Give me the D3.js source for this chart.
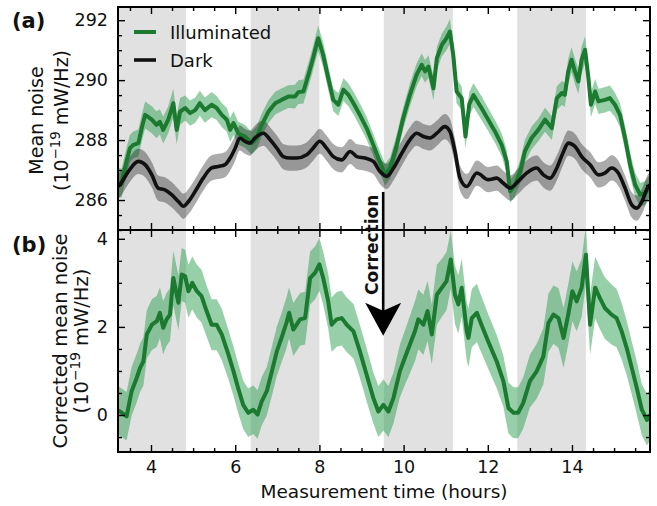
<!DOCTYPE html>
<html><head><meta charset="utf-8">
<script src="https://cdn.jsdelivr.net/npm/d3@7"></script>
<style>
body{margin:0;background:#fff}
svg{display:block}
text{font-family:"DejaVu Sans",sans-serif;fill:#111}
</style>
</head><body>
<svg id="chart" width="657" height="506"></svg>
<script>
// ---------------- data (time in hours, value, uncertainty) ----------------
const illuminated = [
[3.22,286.60,0.48],[3.30,286.56,0.48],[3.42,287.30,0.46],[3.50,287.73,0.45],[3.58,287.84,0.45],[3.70,287.90,0.45],[3.78,288.40,0.45],[3.86,288.84,0.45],[4.02,288.68,0.45],[4.13,288.51,0.45],[4.21,288.61,0.42],[4.29,288.34,0.45],[4.41,288.68,0.45],[4.53,289.23,0.48],[4.61,288.34,0.48],[4.69,288.95,0.45],[4.81,289.07,0.42],[4.93,288.90,0.42],[5.05,289.00,0.42],[5.16,289.23,0.42],[5.28,289.00,0.42],[5.44,289.18,0.42],[5.56,289.07,0.4],[5.68,288.84,0.4],[5.80,288.68,0.4],[5.88,288.34,0.4],[5.96,288.57,0.4],[6.07,288.23,0.38],[6.23,288.12,0.38],[6.39,287.90,0.38],[6.51,288.07,0.38],[6.63,288.51,0.38],[6.79,288.95,0.38],[6.95,289.23,0.38],[7.10,289.34,0.38],[7.26,289.45,0.38],[7.42,289.45,0.4],[7.50,289.60,0.4],[7.62,289.62,0.4],[7.74,290.18,0.4],[7.85,290.73,0.4],[7.97,291.40,0.42],[8.09,290.84,0.42],[8.21,290.07,0.4],[8.33,289.34,0.38],[8.45,289.18,0.38],[8.57,289.68,0.38],[8.69,289.51,0.38],[8.81,289.23,0.38],[8.96,288.84,0.38],[9.12,288.40,0.38],[9.28,287.84,0.36],[9.40,287.40,0.36],[9.56,286.84,0.36],[9.68,287.07,0.36],[9.84,287.84,0.36],[9.99,288.73,0.36],[10.15,289.51,0.38],[10.31,290.18,0.38],[10.43,290.51,0.38],[10.51,290.29,0.38],[10.59,290.45,0.38],[10.71,289.73,0.4],[10.79,290.73,0.38],[10.91,291.18,0.38],[11.02,291.40,0.4],[11.10,291.62,0.42],[11.18,290.84,0.42],[11.26,289.62,0.4],[11.38,289.40,0.4],[11.47,288.12,0.4],[11.56,289.20,0.4],[11.66,289.50,0.4],[11.85,289.07,0.4],[12.01,288.68,0.38],[12.17,288.29,0.38],[12.33,287.84,0.38],[12.45,287.29,0.38],[12.53,286.29,0.38],[12.65,286.51,0.38],[12.77,286.95,0.38],[12.88,287.62,0.38],[13.04,288.07,0.38],[13.20,288.34,0.38],[13.36,288.68,0.4],[13.52,288.40,0.4],[13.64,289.40,0.4],[13.76,289.57,0.4],[13.83,289.51,0.4],[13.91,290.29,0.42],[13.99,290.68,0.42],[14.07,290.29,0.42],[14.15,289.96,0.42],[14.23,290.68,0.45],[14.31,291.01,0.45],[14.39,290.07,0.42],[14.45,289.18,0.42],[14.55,289.62,0.42],[14.63,289.29,0.42],[14.78,289.34,0.42],[14.90,289.40,0.42],[15.02,289.18,0.4],[15.14,288.84,0.4],[15.26,288.07,0.4],[15.38,287.18,0.4],[15.50,286.51,0.4],[15.62,286.18,0.4],[15.74,286.23,0.4],[15.85,286.45,0.4]
];
const dark = [
[3.22,286.45,0.42],[3.26,286.51,0.42],[3.46,286.95,0.42],[3.70,287.29,0.42],[3.86,287.18,0.42],[4.02,286.84,0.42],[4.17,286.40,0.42],[4.33,286.34,0.42],[4.49,286.18,0.42],[4.65,285.95,0.42],[4.77,285.79,0.42],[4.89,285.95,0.42],[5.05,286.29,0.42],[5.24,286.73,0.42],[5.44,287.07,0.42],[5.60,287.12,0.42],[5.76,287.18,0.42],[5.88,287.40,0.42],[6.00,287.73,0.42],[6.11,288.07,0.42],[6.23,287.96,0.42],[6.35,287.90,0.42],[6.47,288.07,0.42],[6.67,288.23,0.42],[6.83,288.01,0.42],[6.99,287.73,0.42],[7.14,287.45,0.42],[7.30,287.40,0.42],[7.46,287.40,0.42],[7.70,287.51,0.42],[7.85,287.73,0.42],[8.01,287.96,0.42],[8.17,287.73,0.42],[8.33,287.45,0.42],[8.53,287.34,0.42],[8.73,287.62,0.42],[8.89,287.45,0.42],[9.08,287.40,0.42],[9.28,287.29,0.42],[9.44,286.95,0.42],[9.60,286.79,0.42],[9.76,287.07,0.42],[9.96,287.57,0.42],[10.15,288.01,0.42],[10.31,288.23,0.42],[10.47,288.12,0.42],[10.63,288.07,0.42],[10.79,288.23,0.42],[10.98,288.45,0.42],[11.10,288.29,0.42],[11.22,287.62,0.42],[11.34,286.73,0.42],[11.50,286.45,0.42],[11.74,286.90,0.42],[12.01,286.68,0.42],[12.21,286.73,0.42],[12.37,286.56,0.42],[12.53,286.40,0.42],[12.72,286.62,0.42],[12.92,286.90,0.42],[13.16,287.07,0.42],[13.32,286.84,0.42],[13.48,286.73,0.42],[13.64,287.07,0.42],[13.80,287.62,0.42],[13.91,287.90,0.42],[14.07,287.79,0.42],[14.23,287.45,0.42],[14.43,287.18,0.42],[14.63,286.84,0.42],[14.78,286.90,0.42],[14.94,287.07,0.42],[15.10,286.90,0.42],[15.26,286.40,0.42],[15.42,285.84,0.42],[15.54,285.73,0.42],[15.66,285.95,0.42],[15.81,286.45,0.42],[15.85,286.50,0.42]
];
const corrected = [
[3.22,0.10,0.55],[3.26,0.08,0.55],[3.42,-0.03,0.55],[3.54,0.54,0.55],[3.66,0.84,0.55],[3.74,1.07,0.55],[3.82,1.22,0.55],[3.90,1.83,0.55],[4.02,2.05,0.58],[4.14,2.13,0.58],[4.21,2.32,0.58],[4.29,1.98,0.6],[4.37,2.17,0.6],[4.45,2.28,0.6],[4.53,3.11,0.62],[4.65,2.55,0.62],[4.73,3.19,0.6],[4.81,3.15,0.6],[4.89,2.81,0.6],[4.98,3.00,0.6],[5.09,2.81,0.6],[5.20,2.70,0.6],[5.32,2.36,0.58],[5.44,2.05,0.58],[5.56,2.05,0.58],[5.68,1.83,0.58],[5.84,1.37,0.56],[5.96,0.99,0.56],[6.07,0.61,0.56],[6.19,0.23,0.55],[6.31,0.05,0.55],[6.43,0.12,0.55],[6.53,0.01,0.55],[6.63,0.31,0.55],[6.75,0.54,0.55],[6.87,0.99,0.56],[6.99,1.45,0.56],[7.10,1.75,0.56],[7.22,2.10,0.58],[7.28,2.32,0.58],[7.38,1.94,0.6],[7.54,2.17,0.6],[7.66,2.20,0.6],[7.78,3.11,0.6],[7.90,3.23,0.6],[8.00,3.42,0.6],[8.09,3.11,0.6],[8.21,2.58,0.62],[8.29,2.05,0.62],[8.41,2.17,0.62],[8.53,2.20,0.62],[8.65,2.05,0.62],[8.81,1.90,0.62],[8.96,1.45,0.6],[9.12,0.92,0.6],[9.28,0.39,0.58],[9.40,0.08,0.58],[9.52,0.23,0.58],[9.64,0.08,0.58],[9.76,0.39,0.58],[9.91,0.99,0.6],[10.03,1.30,0.62],[10.15,1.60,0.65],[10.27,1.90,0.68],[10.35,2.17,0.68],[10.47,2.05,0.68],[10.57,2.36,0.68],[10.67,1.83,0.68],[10.79,2.73,0.68],[10.91,2.89,0.66],[11.02,3.04,0.66],[11.12,3.53,0.66],[11.22,2.73,0.66],[11.30,2.51,0.66],[11.38,2.89,0.66],[11.50,1.90,0.66],[11.54,1.75,0.66],[11.62,2.20,0.66],[11.74,2.32,0.66],[11.85,2.05,0.64],[12.01,1.67,0.62],[12.21,1.22,0.6],[12.37,0.77,0.58],[12.49,0.16,0.58],[12.61,0.05,0.58],[12.72,0.05,0.58],[12.84,0.27,0.58],[13.00,0.77,0.6],[13.16,0.99,0.62],[13.32,1.33,0.64],[13.44,2.09,0.66],[13.56,2.28,0.66],[13.68,2.20,0.68],[13.80,1.75,0.68],[13.91,2.28,0.68],[14.01,2.81,0.68],[14.11,2.58,0.68],[14.23,2.89,0.66],[14.33,3.64,0.66],[14.43,2.05,0.68],[14.55,2.89,0.7],[14.66,2.66,0.7],[14.78,2.43,0.7],[14.94,2.28,0.68],[15.06,2.20,0.66],[15.18,1.90,0.64],[15.30,1.52,0.62],[15.42,1.07,0.6],[15.54,0.61,0.6],[15.66,0.12,0.58],[15.78,-0.11,0.58],[15.85,0.00,0.58]
];
// light (illuminated) periods shaded grey
const shadedPeriods = [[3.216,4.83],[6.37,8.00],[9.53,11.17],[12.70,14.33]];
const xDomain = [3.216, 15.853];
const xMajor = [4,6,8,10,12,14];
const yDomainA = [285.0, 292.44];
const yMajorA = [286,288,290,292];
const yDomainB = [-0.84, 4.2];
const yMajorB = [0,2,4];
const seriesNames = ["Illuminated","Dark"];
const correction = {time: 9.515, fromA: 286.27, toB: 1.80, label: "Correction"};

// ---------------- layout ----------------
const L = 118, R = 650, TA = 7, BA = 230, TB = 230, BB = 452;
const green = "#1b7a30", greenBand = "#2fa052", black = "#111";
const svg = d3.select("#chart");
svg.append("rect").attr("width",657).attr("height",506).attr("fill","#fff");

const x = d3.scaleLinear().domain(xDomain).range([L,R]);
const yA = d3.scaleLinear().domain(yDomainA).range([BA,TA]);
const yB = d3.scaleLinear().domain(yDomainB).range([BB,TB]);

const defs = svg.append("defs");
defs.append("clipPath").attr("id","clipA").append("rect").attr("x",L).attr("y",TA).attr("width",R-L).attr("height",BA-TA);
defs.append("clipPath").attr("id","clipB").append("rect").attr("x",L).attr("y",TB).attr("width",R-L).attr("height",BB-TB);

function panel(y, top, bottom, clipId){
  const g = svg.append("g").attr("clip-path",`url(#${clipId})`);
  g.selectAll("rect.shade").data(shadedPeriods).join("rect").attr("class","shade")
    .attr("x",d=>x(d[0])).attr("width",d=>x(d[1])-x(d[0]))
    .attr("y",top).attr("height",bottom-top).attr("fill","#e1e1e1");
  return g;
}
const band = (y, curve) => d3.area().curve(curve).x(d=>x(d[0])).y0(d=>y(d[1]-d[2])).y1(d=>y(d[1]+d[2]));
const line = (y, curve) => d3.line().curve(curve).x(d=>x(d[0])).y(d=>y(d[1]));

// panel (a)
const gA = panel(yA, TA, BA, "clipA");
gA.append("path").datum(illuminated).attr("d",band(yA,d3.curveLinear)).attr("fill",greenBand).attr("fill-opacity",0.5);
gA.append("path").datum(dark).attr("d",band(yA,d3.curveMonotoneX)).attr("fill","#000").attr("fill-opacity",0.33);
gA.append("path").datum(illuminated).attr("d",line(yA,d3.curveLinear)).attr("fill","none").attr("stroke",green).attr("stroke-width",4).attr("stroke-linejoin","round");
gA.append("path").datum(dark).attr("d",line(yA,d3.curveMonotoneX)).attr("fill","none").attr("stroke",black).attr("stroke-width",3.6).attr("stroke-linejoin","round");

// panel (b)
const gB = panel(yB, TB, BB, "clipB");
gB.append("path").datum(corrected).attr("d",band(yB,d3.curveLinear)).attr("fill",greenBand).attr("fill-opacity",0.5);
gB.append("path").datum(corrected).attr("d",line(yB,d3.curveLinear)).attr("fill","none").attr("stroke",green).attr("stroke-width",4).attr("stroke-linejoin","round");

// ---------------- axes ----------------
const xMinor = d3.range(3.5, 16, 0.5).filter(v=>!xMajor.includes(v));
const yMinorA = d3.range(285, 292.5, 0.5).filter(v=>!yMajorA.includes(v));
const yMinorB = d3.range(-0.5, 4.1, 0.5).filter(v=>!yMajorB.includes(v));

function addAxis(gen, tx, ty){
  const g = svg.append("g").attr("transform",`translate(${tx},${ty})`).call(gen);
  g.select(".domain").remove();
  g.selectAll(".tick line").attr("stroke","#000").attr("stroke-width",1.4);
  g.selectAll(".tick text").attr("font-size",17.5).attr("fill","#111").attr("font-family","DejaVu Sans");
  return g;
}
function xAxes(y0, gen){
  addAxis(gen(x).tickValues(xMajor).tickSize(-7).tickFormat(""), 0, y0);
  addAxis(gen(x).tickValues(xMinor).tickSize(-4).tickFormat(""), 0, y0);
}
xAxes(TA, d3.axisTop);
xAxes(BA, d3.axisBottom);
xAxes(TB, d3.axisTop);
addAxis(d3.axisBottom(x).tickValues(xMajor).tickSize(-7).tickPadding(9).tickFormat(d3.format("d")), 0, BB);
addAxis(d3.axisBottom(x).tickValues(xMinor).tickSize(-4).tickFormat(""), 0, BB);

function yAxes(y, major, minor){
  addAxis(d3.axisLeft(y).tickValues(major).tickSize(-7).tickPadding(10).tickFormat(d3.format("d")), L, 0);
  addAxis(d3.axisLeft(y).tickValues(minor).tickSize(-4).tickFormat(""), L, 0);
  addAxis(d3.axisRight(y).tickValues(major).tickSize(-7).tickFormat(""), R, 0);
  addAxis(d3.axisRight(y).tickValues(minor).tickSize(-4).tickFormat(""), R, 0);
}
yAxes(yA, yMajorA, yMinorA);
yAxes(yB, yMajorB, yMinorB);

// frames
svg.append("rect").attr("x",L).attr("y",TA).attr("width",R-L).attr("height",BA-TA).attr("fill","none").attr("stroke","#000").attr("stroke-width",2);
svg.append("rect").attr("x",L).attr("y",TB).attr("width",R-L).attr("height",BB-TB).attr("fill","none").attr("stroke","#000").attr("stroke-width",2);

// ---------------- labels ----------------
svg.append("text").attr("x",12).attr("y",28).attr("font-size",21).attr("font-weight","bold").text("(a)");
svg.append("text").attr("x",12).attr("y",252).attr("font-size",21).attr("font-weight","bold").text("(b)");

function yLabel(cx, cy, l1, l2x, size){
  svg.append("text").attr("transform",`translate(${cx},${cy}) rotate(-90)`).attr("text-anchor","middle")
    .attr("font-size",size).text(l1);
  const t = svg.append("text").attr("transform",`translate(${l2x},${cy}) rotate(-90)`).attr("text-anchor","middle")
    .attr("font-size",size);
  t.append("tspan").text("(10");
  t.append("tspan").attr("font-size",size*0.7).attr("dy",-size*0.42).text("\u221219");
  t.append("tspan").attr("dy",size*0.42).text(" mW/Hz)");
}
yLabel(43, (TA+BA)/2 + 2, "Mean noise", 68, 19);
yLabel(67, (TB+BB)/2, "Corrected mean noise", 88, 19.5);

svg.append("text").attr("x",(L+R)/2).attr("y",498).attr("text-anchor","middle").attr("font-size",18.5)
  .text("Measurement time (hours)");

// legend
const leg = svg.append("g");
[[green,4],[black,3.6]].forEach((s,i)=>{
  const yy = 32 + i*28;
  leg.append("line").attr("x1",134).attr("x2",156).attr("y1",yy).attr("y2",yy).attr("stroke",s[0]).attr("stroke-width",s[1]);
  leg.append("text").attr("x",170).attr("y",yy+6.5).attr("font-size",18).text(seriesNames[i]);
});

// correction arrow
const ax = x(correction.time), ay0 = yA(correction.fromA), ay1 = yB(correction.toB);
svg.append("line").attr("x1",ax).attr("x2",ax).attr("y1",ay0).attr("y2",ay1-20).attr("stroke","#000").attr("stroke-width",2.6);
svg.append("path").attr("d",`M${ax},${ay1} L${ax-18},${ay1-33} L${ax},${ay1-25} L${ax+18},${ay1-33} Z`).attr("fill","#000");
svg.append("text").attr("transform",`translate(${ax-5},${(ay0+ay1-42)/2 + 2}) rotate(-90)`).attr("text-anchor","middle")
  .attr("font-size",17).attr("font-weight","bold").text(correction.label);
</script>
</body></html>
